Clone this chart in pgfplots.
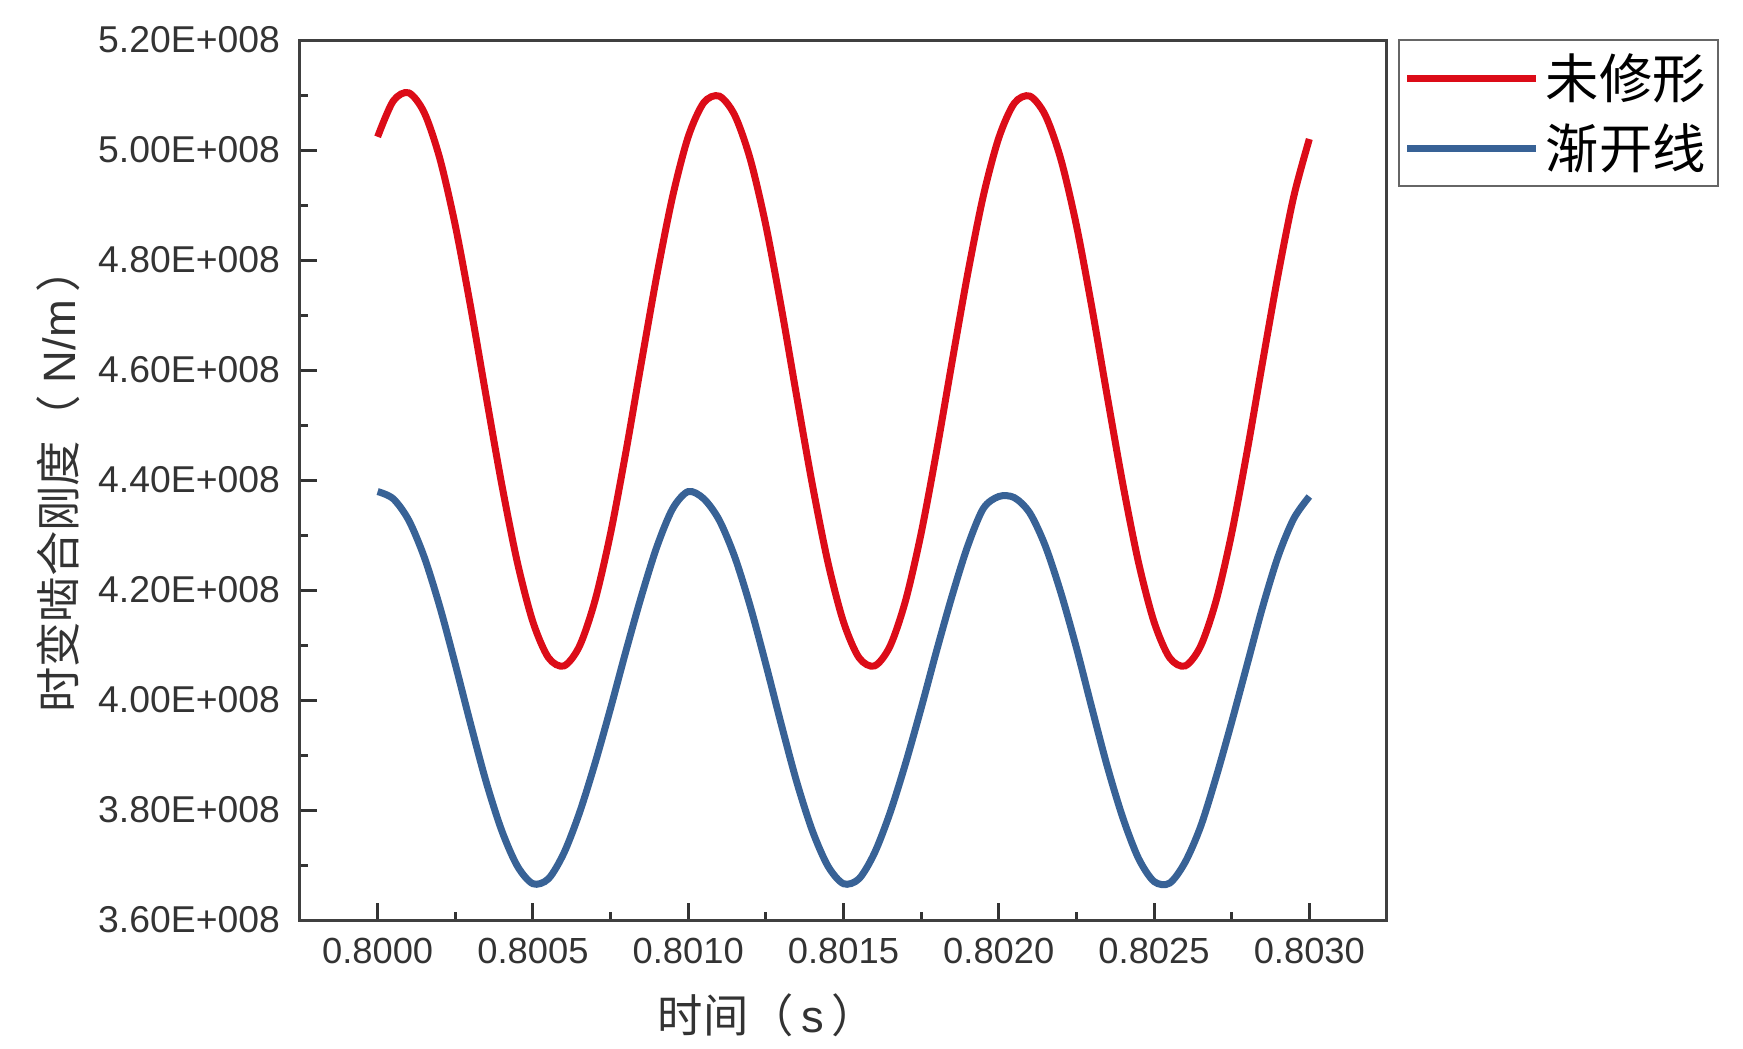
\documentclass[border=0pt]{standalone}
\usepackage{fontspec}
\setmainfont{Liberation Sans}
\newfontfamily\cjk{Noto Sans CJK SC}
\usepackage{pgfplots}
\pgfplotsset{compat=1.18}
\definecolor{cred}{RGB}{220,12,24}
\definecolor{cblue}{RGB}{56,98,150}
\begin{document}
\begin{tikzpicture}
\begin{axis}[
  scale only axis, width=326.1pt, height=264pt,
  xmin=0.79975, xmax=0.80325, ymin=3.6e8, ymax=5.2e8,
  scaled x ticks=false, scaled y ticks=false,
  xtick={0.8,0.8005,0.801,0.8015,0.802,0.8025,0.803},
  xticklabels={0.8000,0.8005,0.8010,0.8015,0.8020,0.8025,0.8030},
  ytick={3.6e8,3.8e8,4.0e8,4.2e8,4.4e8,4.6e8,4.8e8,5.0e8,5.2e8},
  yticklabels={3.60E+008,3.80E+008,4.00E+008,4.20E+008,4.40E+008,4.60E+008,4.80E+008,5.00E+008,5.20E+008},
  minor x tick num=1, minor y tick num=1,
  tick align=inside, tick pos=left,
  major tick length=5pt, minor tick length=2.5pt,
  every tick/.style={black!80, line width=0.9pt},
  axis line style={black!75, line width=0.9pt},
  yticklabel style={font=\fontsize{11.2}{13}\selectfont, text=black!80, xshift=-2.5pt},
  xticklabel style={font=\fontsize{10.9}{13}\selectfont, text=black!80, yshift=-2pt},
  xlabel={{\cjk 时间（}\,s\,{\cjk ）}},
  ylabel={{\cjk 时变啮合刚度（}\ N/m\,{\cjk ）}},
  xlabel style={at={(axis description cs:0.43,-0.108)}, anchor=center, font=\fontsize{13.6}{15}\selectfont, text=black!80},
  ylabel style={at={(axis description cs:-0.222,0.5)}, anchor=center, font=\fontsize{13.6}{15}\selectfont, text=black!80},
  legend style={at={(axis description cs:1,1)}, anchor=north west, xshift=3.3pt, yshift=0.3pt, draw=black!60, line width=0.6pt,
    font=\cjk\fontsize{16}{18}\selectfont, inner xsep=1.5pt, inner ysep=2pt, row sep=2pt},
  legend cell align=left,
  legend image code/.code={\draw[#1] (0pt,0pt) -- (38.5pt,0pt);},
]
\addplot[cred, line width=2.1pt, smooth] coordinates {
(0.80000,5.024e8) (0.80005,5.089e8) (0.80010,5.104e8) (0.80015,5.068e8) (0.80020,4.985e8)
(0.80025,4.863e8) (0.80030,4.713e8) (0.80035,4.550e8) (0.80040,4.391e8) (0.80045,4.250e8)
(0.80050,4.142e8) (0.80055,4.077e8) (0.80060,4.062e8) (0.80065,4.098e8) (0.80070,4.181e8)
(0.80075,4.303e8) (0.80080,4.453e8) (0.80085,4.616e8) (0.80090,4.775e8) (0.80095,4.916e8)
(0.80100,5.024e8) (0.80105,5.086e8) (0.80110,5.098e8) (0.80115,5.063e8) (0.80120,4.983e8)
(0.80125,4.863e8) (0.80130,4.713e8) (0.80135,4.550e8) (0.80140,4.391e8) (0.80145,4.250e8)
(0.80150,4.142e8) (0.80155,4.077e8) (0.80160,4.062e8) (0.80165,4.098e8) (0.80170,4.181e8)
(0.80175,4.303e8) (0.80180,4.453e8) (0.80185,4.616e8) (0.80190,4.775e8) (0.80195,4.916e8)
(0.80200,5.022e8) (0.80205,5.085e8) (0.80210,5.098e8) (0.80215,5.063e8) (0.80220,4.983e8)
(0.80225,4.863e8) (0.80230,4.713e8) (0.80235,4.550e8) (0.80240,4.391e8) (0.80245,4.250e8)
(0.80250,4.142e8) (0.80255,4.077e8) (0.80260,4.062e8) (0.80265,4.098e8) (0.80270,4.181e8)
(0.80275,4.303e8) (0.80280,4.453e8) (0.80285,4.616e8) (0.80290,4.775e8) (0.80295,4.916e8)
(0.80300,5.020e8)
};
\addlegendentry{未修形}
\addplot[cblue, line width=2.1pt, smooth] coordinates {
(0.80000,4.379e8) (0.80005,4.366e8) (0.80010,4.327e8) (0.80015,4.260e8) (0.80020,4.170e8)
(0.80025,4.065e8) (0.80030,3.955e8) (0.80035,3.850e8) (0.80040,3.762e8) (0.80045,3.698e8)
(0.80050,3.666e8) (0.80055,3.675e8) (0.80060,3.722e8) (0.80065,3.795e8) (0.80070,3.885e8)
(0.80075,3.985e8) (0.80080,4.090e8) (0.80085,4.190e8) (0.80090,4.280e8) (0.80095,4.348e8)
(0.80100,4.379e8) (0.80105,4.366e8) (0.80110,4.327e8) (0.80115,4.260e8) (0.80120,4.170e8)
(0.80125,4.065e8) (0.80130,3.955e8) (0.80135,3.850e8) (0.80140,3.762e8) (0.80145,3.698e8)
(0.80150,3.666e8) (0.80155,3.675e8) (0.80160,3.722e8) (0.80165,3.795e8) (0.80170,3.885e8)
(0.80175,3.985e8) (0.80180,4.090e8) (0.80185,4.190e8) (0.80190,4.280e8) (0.80195,4.348e8)
(0.80200,4.370e8) (0.80205,4.368e8) (0.80210,4.340e8) (0.80215,4.280e8) (0.80220,4.195e8)
(0.80225,4.095e8) (0.80230,3.985e8) (0.80235,3.878e8) (0.80240,3.785e8) (0.80245,3.712e8)
(0.80250,3.670e8) (0.80255,3.667e8) (0.80260,3.705e8) (0.80265,3.770e8) (0.80270,3.860e8)
(0.80275,3.960e8) (0.80280,4.065e8) (0.80285,4.170e8) (0.80290,4.262e8) (0.80295,4.330e8)
(0.80300,4.370e8)
};
\addlegendentry{渐开线}
\end{axis}
\path (current axis.south west) ++(-90pt,-38.4pt) rectangle ++(522.9pt,314.4pt);
\end{tikzpicture}
\end{document}
